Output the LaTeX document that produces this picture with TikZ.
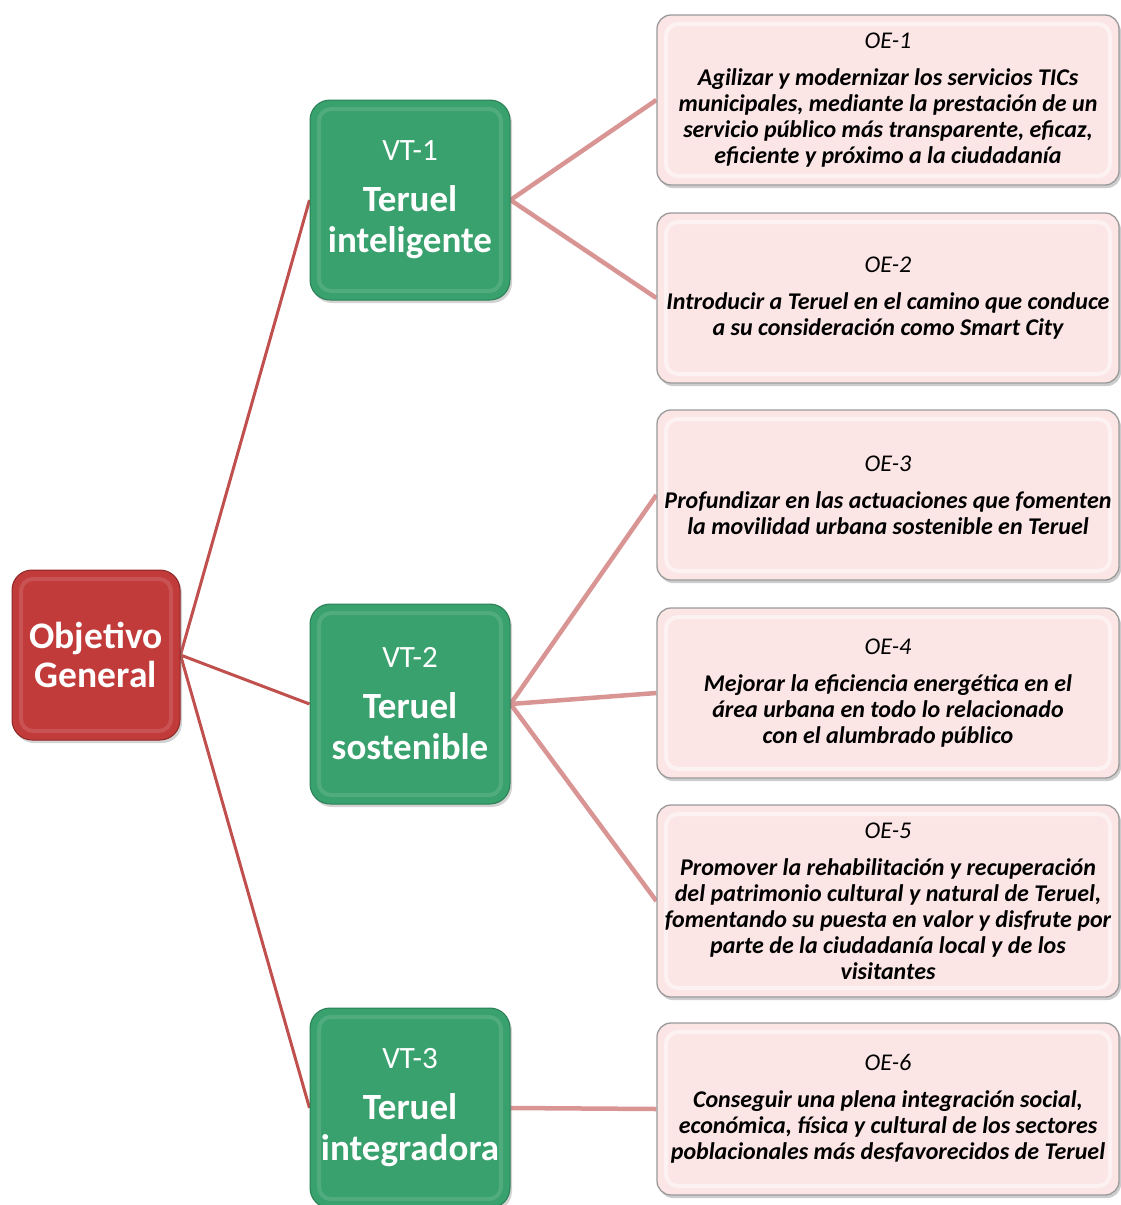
\documentclass[tikz,border=0pt]{standalone}
\usepackage{fontspec}
\setmainfont{Carlito}
\usetikzlibrary{shadows,backgrounds}
\definecolor{rgen}{HTML}{C23B3B}
\definecolor{rgenD}{HTML}{8E2626}
\definecolor{gvt}{HTML}{38A16D}
\definecolor{gvtD}{HTML}{2A7F55}
\definecolor{poe}{HTML}{FCE5E5}
\definecolor{poeD}{HTML}{9A9A9A}
\definecolor{lnR}{HTML}{C0504D}
\definecolor{lnP}{HTML}{D99594}
\tikzset{
  bevel/.style={path picture={
    \draw[white,opacity=#1,line width=4pt,rounded corners=12pt]
      ([shift={(9pt,-9pt)}]path picture bounding box.north west) rectangle
      ([shift={(-9pt,9pt)}]path picture bounding box.south east);}},
  gennode/.style={draw=rgenD,line width=1pt,fill=rgen,rounded corners=20pt,
    minimum width=168pt,minimum height=170pt,text=white,align=center,inner sep=0pt,
    font=\fontsize{37.5}{39}\selectfont\bfseries,
    bevel=0.12,drop shadow={opacity=0.35,shadow xshift=2pt,shadow yshift=-3pt}},
  vtnode/.style={draw=gvtD,line width=1pt,fill=gvt,rounded corners=20pt,
    minimum width=200pt,minimum height=200pt,text=white,align=center,inner sep=0pt,
    font=\fontsize{37}{41}\selectfont\bfseries,
    bevel=0.12,drop shadow={opacity=0.35,shadow xshift=2pt,shadow yshift=-3pt}},
  oenode/.style={draw=poeD,line width=1.3pt,fill=poe,rounded corners=14pt,
    minimum width=462pt,text=black,align=center,inner sep=0pt,
    font=\fontsize{24}{26}\selectfont\bfseries\itshape,
    bevel=0.5,drop shadow={opacity=0.4,shadow xshift=2pt,shadow yshift=-3pt}},
  linkR/.style={draw=lnR,line width=3pt},
  linkP/.style={draw=lnP,line width=4.5pt},
}
\newcommand{\vtlabel}[2]{{\fontsize{31}{30}\selectfont\mdseries #1}\\[10pt]#2}
\newcommand{\oelabel}[2]{{\mdseries #1}\\[11pt]#2}
\begin{document}
\begin{tikzpicture}[x=1pt,y=-1pt]
\useasboundingbox (0,0) rectangle (1121,1205);

\node[oenode,minimum height=170pt] (P1) at (888,100) {\oelabel{OE-1}{Agilizar y modernizar los servicios TICs\\municipales, mediante la prestación de un\\servicio público más transparente, eficaz,\\eficiente y próximo a la ciudadanía}};
\node[oenode,minimum height=170pt] (P2) at (888,298) {\oelabel{OE-2}{Introducir a Teruel en el camino que conduce\\a su consideración como Smart City}};
\node[oenode,minimum height=170pt] (P3) at (888,495) {\oelabel{OE-3}{Profundizar en las actuaciones que fomenten\\la movilidad urbana sostenible en Teruel}};
\node[oenode,minimum height=170pt] (P4) at (888,693) {\oelabel{OE-4}{Mejorar la eficiencia energética en el\\área urbana en todo lo relacionado\\con el alumbrado público}};
\node[oenode,minimum height=192pt] (P5) at (888,901) {\oelabel{OE-5}{Promover la rehabilitación y recuperación\\del patrimonio cultural y natural de Teruel,\\fomentando su puesta en valor y disfrute por\\parte de la ciudadanía local y de los\\visitantes}};
\node[oenode,minimum height=172pt] (P6) at (888,1109) {\oelabel{OE-6}{Conseguir una plena integración social,\\económica, física y cultural de los sectores\\poblacionales más desfavorecidos de Teruel}};

\node[gennode] (R) at (96,655) {Objetivo\\General};
\node[vtnode] (G1) at (410,200) {\vtlabel{VT-1}{Teruel\\inteligente}};
\node[vtnode] (G2) at (410,704) {\vtlabel{VT-2}{Teruel\\sostenible}};
\node[vtnode] (G3) at (410,1108) {\vtlabel{VT-3}{Teruel\\integradora}};

\begin{scope}[on background layer]
\draw[linkR] (R.east) -- (G1.west);
\draw[linkR] (R.east) -- (G2.west);
\draw[linkR] (R.east) -- (G3.west);
\draw[linkP] (G1.east) -- (P1.west);
\draw[linkP] (G1.east) -- (P2.west);
\draw[linkP] (G2.east) -- (P3.west);
\draw[linkP] (G2.east) -- (P4.west);
\draw[linkP] (G2.east) -- (P5.west);
\draw[linkP] (G3.east) -- (P6.west);
\end{scope}
\end{tikzpicture}
\end{document}
